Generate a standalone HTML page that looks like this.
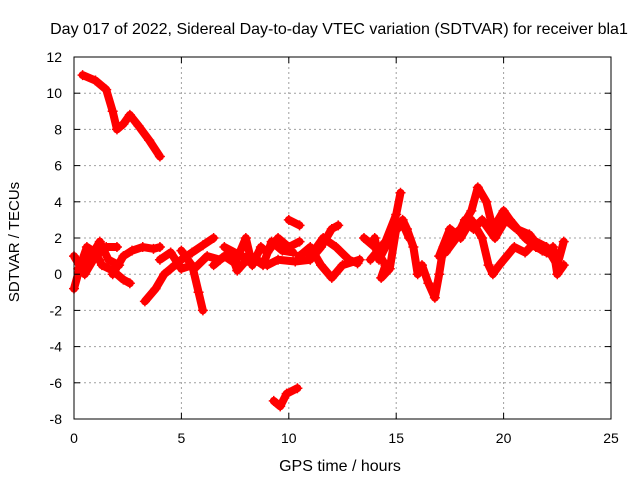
<!DOCTYPE html>
<html><head><meta charset="utf-8"><style>
body{margin:0;background:#fff;}
svg text{font-family:"Liberation Sans",sans-serif;font-size:14px;fill:#000;}
</style></head><body>
<svg width="640" height="480" id="c">
<rect width="640" height="480" fill="#fff"/>
<g id="grid"></g>
<g id="series"></g>
<rect x="74" y="57" width="537" height="362" fill="none" stroke="#000" stroke-width="1"/>
<g id="ticks"></g>
<text x="339" y="34" text-anchor="middle" style="font-size:16px">Day 017 of 2022, Sidereal Day-to-day VTEC variation (SDTVAR) for receiver bla1</text>
<text x="340" y="471" text-anchor="middle" style="font-size:16px">GPS time / hours</text>
<text transform="translate(19,242) rotate(-90)" text-anchor="middle" style="font-size:15px">SDTVAR / TECUs</text>
</svg>
<script>
const xTicks=[0,5,10,15,20,25];
const yTicks=[-8,-6,-4,-2,0,2,4,6,8,10,12];
const trackA=[[0.4,11],[1,10.7],[1.5,10.2],[1.8,9],[2,8],[2.3,8.3],[2.6,8.8],[3,8.2],[3.5,7.4],[4,6.5]];
const trackB=[[9.3,-7],[9.6,-7.3],[9.9,-6.6],[10.4,-6.3]];
const track1=[[0,-0.8],[0.3,0.5],[0.6,1.5],[1,1.2],[1.3,0.5],[1.8,0.2],[2.3,-0.3],[2.6,-0.5]];
const track2=[[0,1],[0.5,0],[1,1],[1.5,1.5],[2,1.5]];
const track3=[[1.8,0],[2.3,1],[2.7,1.3],[3.2,1.5],[3.7,1.4],[4,1.5]];
const track4=[[3.3,-1.5],[3.8,-0.8],[4.2,0],[4.5,0.3],[5,0.8],[5.5,1.2],[6,1.6],[6.5,2]];
const track5=[[4,0.8],[4.5,1.2],[5,0.3],[5.5,0.5],[5.8,-1],[6,-2]];
const track6=[[6.5,0.5],[7,1],[7.5,0.6],[8,2],[8.3,0.5],[8.7,1.5],[9,1.2],[9.5,2],[10,1.5],[10.5,1.8]];
const track7=[[7,1.5],[7.8,1],[8.5,0.8],[9,0.5],[9.5,0.8],[10.3,0.7],[11,0.8],[11.5,1.5],[12,2.5],[12.3,2.7]];
const track8=[[10,3],[10.5,2.7]];
const track9=[[10.5,1],[11,1.5],[11.5,0.5],[12,-0.2],[12.5,0.5],[13.3,0.8]];
const track10=[[13.5,2],[14,1.5],[14.5,0.5],[14.3,-0.2],[14.7,0.3],[15,2.5],[15.3,3],[15.5,2.5],[15.8,1.5],[16,0]];
const track11=[[13.8,0.8],[14.5,1.8],[15,3.3],[15.2,4.5]];
const track12=[[16.2,0.5],[16.5,-0.5],[16.8,-1.3],[17,0],[17.2,1.5],[17.5,2],[18,2.5],[18.5,3.5],[18.8,4.8],[19.2,4],[19.5,2.5],[20,3.5],[20.3,3],[21,2],[21.5,1.5],[22,1.2]];
const track13=[[17,1],[17.5,2.5],[18,2],[18.5,3],[19,2],[19.3,0.5],[19.5,0],[19.8,0.5],[20.5,1.5],[21,1.2],[21.5,1.8],[22,1.5],[22.5,0.5],[22.8,1.8]];
const track14=[[22.3,1.5],[22.5,0],[22.8,0.5]];
const track15=[[0.2,0.3],[0.7,0.8],[1.2,1.8],[1.6,0.8],[2.1,0.5]];
const track16=[[5,1.3],[5.6,0.3],[6.2,1],[6.8,0.8],[7.3,1.2],[7.6,0.2],[8.2,1],[8.8,0.5],[9.2,1.8],[9.7,1.3],[10.2,1.2]];
const track17=[[11,1],[11.6,2],[12.2,1.5],[12.8,0.8],[13.2,0.6]];
const track18=[[14,2],[14.2,0.8],[14.5,1.5],[14.8,2.2],[15.3,2.8],[15.6,2]];
const track19=[[17.3,1.2],[17.8,2],[18.2,3],[18.6,2.5],[19,3],[19.6,2],[20.1,3],[20.6,2.5],[21.2,2.2],[21.8,1.3],[22.4,1]];
const tracks=[trackA,trackB,track1,track2,track3,track4,track5,track6,track7,track8,track9,track10,track11,track12,track13,track14,track15,track16,track17,track18,track19];

const NS="http://www.w3.org/2000/svg";
const X=v=>74+v*(537/25);
const Y=v=>419-(v+8)*(362/20);
function mk(tag,attrs,parent){const e=document.createElementNS(NS,tag);for(const k in attrs)e.setAttribute(k,attrs[k]);parent.appendChild(e);return e;}
const grid=document.getElementById('grid'),ticks=document.getElementById('ticks'),series=document.getElementById('series');
xTicks.forEach(t=>{
  if(t>0&&t<25){const g=mk('line',{x1:X(t),x2:X(t),y1:57,y2:419,stroke:'#a0a0a0','stroke-dasharray':'2,3'},grid);
  
  }
  mk('line',{x1:X(t),x2:X(t),y1:419,y2:413,stroke:'#000'},ticks);
  mk('line',{x1:X(t),x2:X(t),y1:57,y2:63,stroke:'#000'},ticks);
  const l=mk('text',{x:X(t),y:443,'text-anchor':'middle'},ticks);l.textContent=t;
  
  
});
yTicks.forEach(t=>{
  if(t>-8&&t<12){const g=mk('line',{x1:74,x2:611,y1:Y(t),y2:Y(t),stroke:'#a0a0a0','stroke-dasharray':'2,3'},grid);
  
  }
  mk('line',{x1:74,x2:80,y1:Y(t),y2:Y(t),stroke:'#000'},ticks);
  mk('line',{x1:611,x2:605,y1:Y(t),y2:Y(t),stroke:'#000'},ticks);
  const l=mk('text',{x:62,y:Y(t)+5,'text-anchor':'end'},ticks);l.textContent=t;
  
  
});
tracks.forEach(tr=>{
  const p=mk('polyline',{points:tr.map(d=>X(d[0])+','+Y(d[1])).join(' '),fill:'none',stroke:'#f00','stroke-width':8,'stroke-linejoin':'round','stroke-linecap':'round'},series);
  
  
  tr.forEach(d=>{
    const m=mk('path',{d:`M${X(d[0])-5},${Y(d[1])}h10M${X(d[0])},${Y(d[1])-5}v10`,stroke:'#f00','stroke-width':1.5},series);
    
    
  });
});
</script>
</body></html>
